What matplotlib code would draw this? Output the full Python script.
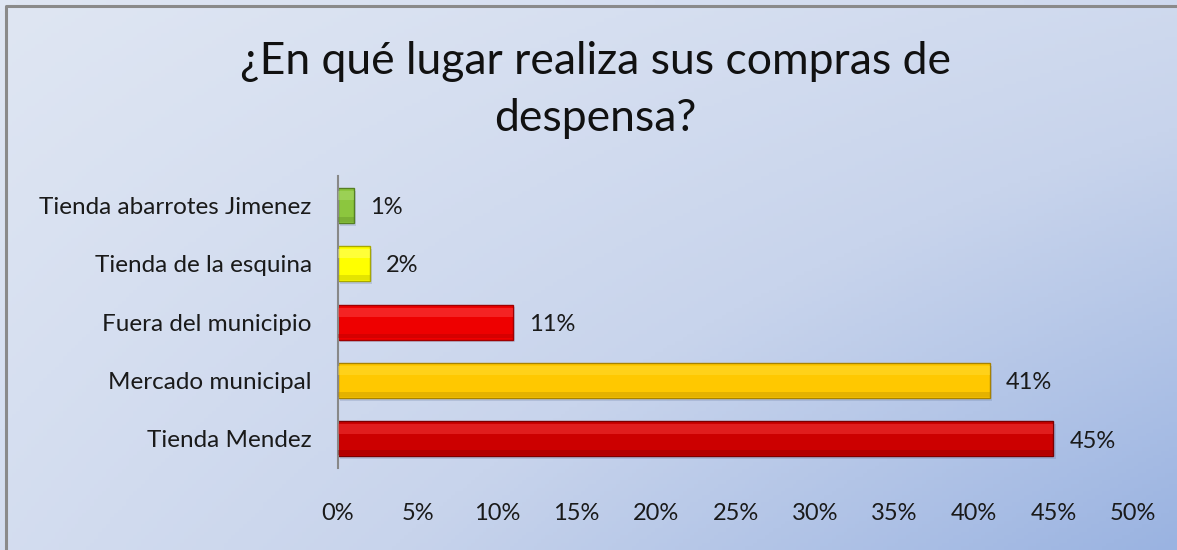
import numpy as np
import matplotlib
matplotlib.use("Agg")
import matplotlib.pyplot as plt
from matplotlib.colors import LinearSegmentedColormap

# data, bottom to top
categories = [
    "Tienda Mendez",
    "Mercado municipal",
    "Fuera del municipio",
    "Tienda de la esquina",
    "Tienda abarrotes Jimenez",
]
values = [45, 41, 11, 2, 1]
face_colors = ["#cc0000", "#ffc800", "#ee0000", "#ffff00", "#8cc63e"]
light_colors = ["#ff4a4a", "#ffe040", "#ff5a5a", "#ffff90", "#b4e07a"]
edge_colors = ["#7a0000", "#a88200", "#a00000", "#a8a800", "#557f22"]
x_ticks = [0, 5, 10, 15, 20, 25, 30, 35, 40, 45, 50]
title = "¿En qué lugar realiza sus compras de\ndespensa?"

plt.rcParams["font.family"] = ["Lato", "DejaVu Sans"]

fig = plt.figure(figsize=(11.77, 5.5), dpi=100)

# background gradient, light at top and left, blue toward bottom-right
bg = fig.add_axes([0, 0, 1, 1], zorder=0)
gx, gy = np.meshgrid(np.linspace(0, 1, 300), np.linspace(0, 1, 150))
grad = 0.35 * gx + 0.25 * gy + 0.4 * gx * gy
cmap = LinearSegmentedColormap.from_list("bg", ["#dfe6f3", "#c8d4ec", "#9ab3e1"])
bg.imshow(grad, cmap=cmap, aspect="auto", extent=[0, 1, 0, 1], origin="upper")
bg.plot([0.0055, 0.0055, 1.0], [0.0, 0.989, 0.989], color="#8a8a8a", lw=2.2)
bg.set_xlim(0, 1)
bg.set_ylim(0, 1)
bg.axis("off")

ax = fig.add_axes([0.2872, 0.149, 0.6754, 0.531], zorder=1)
ax.patch.set_alpha(0)

y = np.arange(len(categories))
h = 0.6

# drop shadow
ax.barh(y - 0.05, values, height=h, left=0.15, color="#5a6f99", alpha=0.22, zorder=1)
# main bars
ax.barh(y, values, height=h, color=face_colors, edgecolor=edge_colors, linewidth=1.0, zorder=2)
# soft highlight near the top and darker strip at the bottom (bevel look)
ax.barh(y + h * 0.28, values, height=h * 0.26, color=light_colors, alpha=0.4, zorder=3)
ax.barh(y - h * 0.4, values, height=h * 0.14, color=edge_colors, alpha=0.3, zorder=3)

for yi, v in zip(y, values):
    ax.text(v + 1.0, yi - 0.04, f"{v:.0f}%", va="center", ha="left", fontsize=17, color="#1a1a1a")

ax.set_xlim(0, 50)
ax.set_ylim(-0.5, len(categories) - 0.5)
ax.set_xticks(x_ticks)
ax.set_xticklabels([f"{t}%" for t in x_ticks], fontsize=17, color="#1a1a1a")
ax.set_yticks(y)
ax.set_yticklabels(categories, fontsize=17.5, color="#1a1a1a")
ax.tick_params(axis="x", length=0, pad=25)
ax.tick_params(axis="y", length=0, pad=19)
for side in ["top", "right", "bottom"]:
    ax.spines[side].set_visible(False)
ax.spines["left"].set_color("#888888")
ax.spines["left"].set_linewidth(1.5)

fig.text(0.506, 0.836, title, ha="center", va="center", fontsize=32,
         color="#111111", linespacing=1.5)

fig.savefig("out.png", dpi=100)
